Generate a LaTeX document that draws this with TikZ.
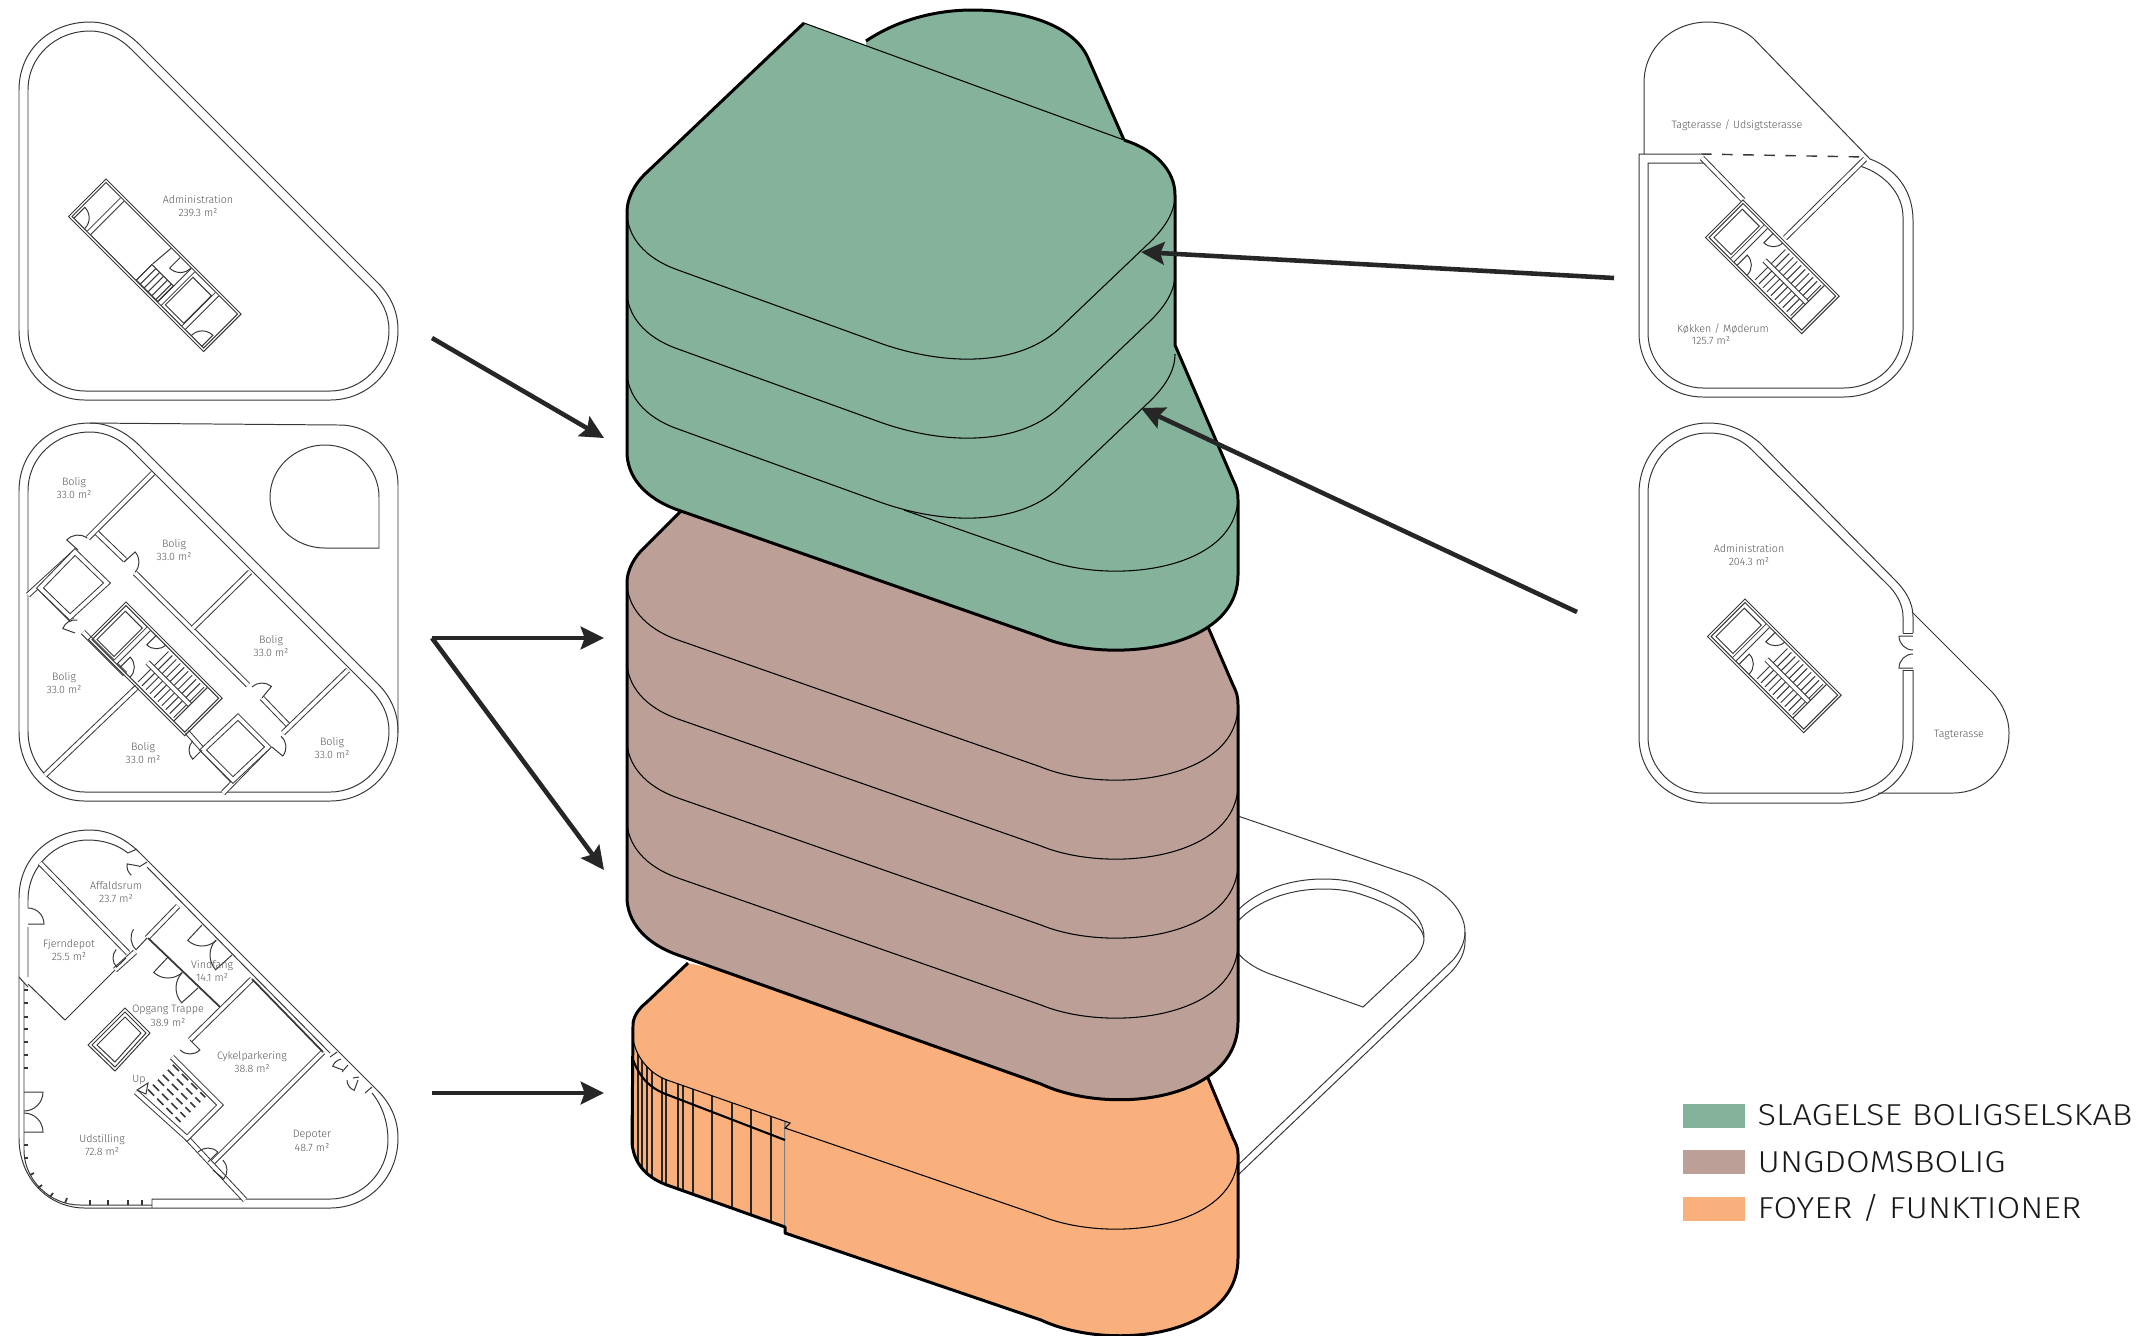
\documentclass[tikz,border=0pt]{standalone}
\usepackage{fontspec}
\setmainfont{Fira Sans}[UprightFont=* Light]
\newfontfamily\keyfont{Fira Sans}[UprightFont=* Light,FakeStretch=1.135]
\usetikzlibrary{arrows.meta}
\definecolor{slagelse}{RGB}{132,178,155}
\definecolor{ungdom}{RGB}{188,160,151}
\definecolor{foyer}{RGB}{250,176,125}
\definecolor{planink}{RGB}{55,55,55}
\definecolor{labelink}{RGB}{85,85,85}
\tikzset{
  plan/.style={draw=planink,line width=.28pt},
  wall/.style={plan,double=white,double distance=1.05pt},
  heavy/.style={draw=black,line width=.85pt,line join=round},
  layer/.style={draw=black,line width=.3pt},
  arr/.style={draw=black!85,line width=1.3pt,-{Stealth[length=6.6pt,width=6.4pt,inset=1.1pt]}},
  roomlabel/.style={text=labelink,font=\fontsize{3.05}{3.9}\selectfont,align=center,inner sep=0pt},
  keytext/.style={anchor=west,text=black!90,font=\keyfont\fontsize{8.6}{10}\selectfont,inner sep=0pt},
}
\newcommand{\doorleaf}[5]{\draw[plan] (#1,#2) -- ++(#3:#5) arc[start angle=#3,delta angle=#4,radius=#5];}
\newcommand{\shellouter}[2]{\draw[plan,shift={(#1,#2)}] (19,90) .. controls (19,50) and (50,22) .. (90,22) .. controls (110,22) and (127,32) .. (140,45) -- (378,283) .. controls (391,296) and (398,312) .. (398,330) .. controls (398,370) and (368,400) .. (330,400) -- (85,400) .. controls (48,400) and (19,370) .. (19,330) -- cycle;}
\newcommand{\shellinner}[2]{\draw[plan,shift={(#1,#2)}] (28,90) .. controls (28,56) and (56,31) .. (90,31) .. controls (106,31) and (120,38) .. (131,49) -- (370,288) .. controls (382,300) and (389,314) .. (389,330) .. controls (389,364) and (362,391) .. (330,391) -- (85,391) .. controls (54,391) and (28,364) .. (28,330) -- cycle;}
\newcommand{\stairrun}[3]{\foreach \t in {0,...,9} \draw[plan] (65+\t*5.6,#2) -- (65+\t*5.6,#3);}
\newcommand{\corecell}[2]{\begin{scope}[shift={(#1,#2)},rotate=-45]
  \draw[plan] (0,0) rectangle (136,53); \draw[plan] (2.5,2.5) rectangle (133.5,50.5);
  \draw[plan] (6,7) rectangle (30,47); \draw[wall] (35,3) -- (35,50);
  \stairrun{0}{5}{26}; \stairrun{0}{29}{48}; \draw[wall] (58,27.5) -- (118,27.5); \draw[plan] (118,3) -- (118,50);
  \doorleaf{45}{2}{90}{-90}{13.5} \doorleaf{42}{50}{-90}{90}{14}
\end{scope}}
\begin{document}
\begin{tikzpicture}[x=.01cm,y=-.01cm]
\useasboundingbox (0,0) rectangle (2148,1335);
\coordinate (p1) at (432,338); \coordinate (g1) at (604,438); \coordinate (p2) at (432,638); \coordinate (b1) at (604,638);
\coordinate (b2) at (604,870); \coordinate (p3) at (432,1093); \coordinate (o1) at (604,1093); \coordinate (p4) at (1614,278);
\coordinate (g2) at (1141,252); \coordinate (p5) at (1577,612); \coordinate (g3) at (1141,408);

\draw[plan] (1238,816) -- (1410,875) .. controls (1440,886) and (1465,908) .. (1465,932) -- (1465,942) .. controls (1465,952) and (1460,963) .. (1450,973) -- (1238,1175);
\draw[plan] (1465,932) .. controls (1465,942) and (1460,952) .. (1453,960) -- (1238,1165);
\draw[plan] (1238,910) .. controls (1258,890) and (1290,879) .. (1323,879) .. controls (1340,879) and (1352,881) .. (1363,885) .. controls (1400,897) and (1424,915) .. (1424,937);
\draw[plan] (1238,921) .. controls (1258,900) and (1290,889) .. (1323,889) .. controls (1340,889) and (1352,891) .. (1363,895) .. controls (1400,907) and (1424,925) .. (1424,940) .. controls (1423,948) and (1418,956) .. (1410,963) -- (1363,1007) -- (1273,975) .. controls (1258,970) and (1245,962) .. (1238,953);

\path[fill=foyer] (688,963) -- (647,1002) .. controls (637,1010) and (633,1018) .. (633,1025) -- (632,1143) .. controls (634,1165) and (648,1178) .. (667,1185) -- (785,1227) -- (785,1233) -- (1041,1320) .. controls (1110,1352) and (1238,1337) .. (1238,1258) -- (1238,1154) .. controls (1238,1148) and (1236,1144) .. (1233,1138) -- (1208,1078) -- cycle;
\begin{scope}
\clip (633,1038) .. controls (635,1055) and (648,1073) .. (667,1080) -- (790,1123) -- (785,1128) -- (785,1227) -- (667,1185) .. controls (648,1178) and (634,1165) .. (632,1143) -- cycle;
\foreach \x in {633,638,642,647,652,662,666,678,683,693,712,732,751,771} \draw[black!85,line width=.6pt] (\x,1000) -- (\x,1250);
\draw[black!50,line width=.3pt] (785,1100) -- (785,1240);
\end{scope}
\draw[heavy] (688,963) -- (647,1002) .. controls (637,1010) and (633,1018) .. (633,1025) -- (632,1143) .. controls (634,1165) and (648,1178) .. (667,1185) -- (785,1227) -- (785,1233) -- (1041,1320) .. controls (1110,1352) and (1238,1337) .. (1238,1258) -- (1238,1154) .. controls (1238,1148) and (1236,1144) .. (1233,1138) -- (1208,1078);
\draw[layer] (633,1038) .. controls (635,1055) and (648,1073) .. (667,1080) -- (790,1123) -- (785,1128) -- (1041,1216) .. controls (1110,1244) and (1238,1229) .. (1238,1154);
\draw[black,line width=.6pt] (632,1057) .. controls (640,1080) and (652,1088) .. (663,1093) -- (785,1140);

\fill[ungdom] (681,511) -- (644,548) .. controls (635,556) and (627,570) .. (627,582) -- (627,897) .. controls (627,921) and (644,943) .. (678,955) -- (1041,1084) .. controls (1110,1116) and (1238,1101) .. (1238,1022) -- (1238,705) .. controls (1238,697) and (1237,693) .. (1233,685) -- (1208,627) -- cycle;
\draw[heavy] (681,511) -- (644,548) .. controls (635,556) and (627,570) .. (627,582) -- (627,897) .. controls (627,921) and (644,943) .. (678,955) -- (1041,1084) .. controls (1110,1116) and (1238,1101) .. (1238,1022) -- (1238,705) .. controls (1238,697) and (1237,693) .. (1233,685) -- (1208,627);
\foreach \dy in {0,79,158,238} \draw[layer,shift={(0,\dy)}] (627,582) .. controls (627,606) and (644,628) .. (678,640) -- (1041,767) .. controls (1110,795) and (1238,780) .. (1238,705);

\fill[slagelse] (866,41) .. controls (900,18) and (940,10) .. (972,10) .. controls (1030,10) and (1075,28) .. (1088,58) -- (1124,140) -- (1124,170) -- (866,70) -- cycle;
\draw[heavy] (866,41) .. controls (900,18) and (940,10) .. (972,10) .. controls (1030,10) and (1075,28) .. (1088,58) -- (1124,140);
\fill[slagelse] (804,23) -- (1124,140) .. controls (1155,150) and (1175,170) .. (1175,195) -- (1175,345) -- (1233,480) .. controls (1237,488) and (1238,492) .. (1238,500) -- (1238,575) .. controls (1238,650) and (1110,665) .. (1041,637) -- (678,510) .. controls (644,498) and (627,476) .. (627,452) -- (627,212) .. controls (627,198) and (635,184) .. (644,175) -- cycle;
\draw[heavy] (1124,140) .. controls (1155,150) and (1175,170) .. (1175,195) -- (1175,345) -- (1233,480) .. controls (1237,488) and (1238,492) .. (1238,500) -- (1238,575) .. controls (1238,650) and (1110,665) .. (1041,637) -- (678,510) .. controls (644,498) and (627,476) .. (627,452) -- (627,212) .. controls (627,198) and (635,184) .. (644,175) -- (804,23);
\draw[layer] (804,23) -- (1124,140);
\foreach \dy in {0,79,159} \draw[layer,shift={(0,\dy)}] (627,212) .. controls (627,236) and (644,258) .. (678,270) -- (877,342) .. controls (945,367) and (1021,367) .. (1062,326) -- (1148,244) .. controls (1165,228) and (1175,212) .. (1175,195);
\draw[layer] (904,510) -- (1041,558) .. controls (1110,586) and (1238,571) .. (1238,496);

\foreach \a/\b in {p1/g1,p2/b1,p2/b2,p3/o1,p4/g2,p5/g3} \draw[arr] (\a) -- (\b);

\shellouter{0}{0} \shellinner{0}{0}
\begin{scope}[shift={(106,179)},rotate=-45]
\draw[plan] (0,0) rectangle (191,53); \draw[plan] (2.5,2.5) rectangle (188.5,50.5);
\draw[wall] (26,3) -- (26,50); \draw[plan] (95,3) -- (93,27); \draw[wall] (126,3) -- (126,50); \draw[wall] (160,3) -- (160,50);
\draw[plan] (131,8) rectangle (157,47); \draw[plan] (93,28) rectangle (123,50);
\foreach \t in {0,...,5} \draw[plan] (93+\t*5.5,28) -- (93+\t*5.5,50);
\doorleaf{5}{50}{-90}{90}{15} \doorleaf{108}{3}{90}{-90}{15} \doorleaf{186}{50}{-90}{-90}{15}
\end{scope}
\node[roomlabel] (admin1) at (198,206) {Administration\\239.3 m²};

\shellouter{0}{401} \shellinner{0}{401}
\draw[plan] (90,423) -- (340,425) .. controls (372,425) and (398,452) .. (398,485) -- (398,733);
\draw[plan] (270,497) .. controls (270,468) and (295,445) .. (325,445) .. controls (355,445) and (379,468) .. (379,497) -- (379,548) -- (325,548) .. controls (295,548) and (270,525) .. (270,497) -- cycle;
\foreach \ax/\ay/\bx/\by in {153/473/88/538,97/533/125/560,135/573/248/685,262/698/288/725,250/572/193/628,348/670/283/733,75/552/28/595,40/588/72/620,83/632/125/674,137/687/45/775,187/732/203/750,203/750/232/780,268/747/223/793}
  \draw[wall] (\ax,\ay) -- (\bx,\by);
\draw[wall] (75,552) -- (107,583) -- (70,617) -- (40,588) -- cycle;
\draw[wall] (238,717) -- (268,747) -- (233,780) -- (203,750) -- cycle;
\corecell{126}{602}
\doorleaf{78}{550}{222}{85}{15} \doorleaf{124}{562}{318}{84}{15} \doorleaf{75}{633}{200}{80}{13}
\doorleaf{262}{698}{309}{-81}{15} \doorleaf{202}{750}{135}{90}{13} \doorleaf{272}{747}{40}{-90}{14}
\foreach \n/\x/\y in {b1room/74/488,b2room/174/550,b3room/271/646,b4room/64/683,b5room/143/753,b6room/332/748}
  \node[roomlabel] (\n) at (\x,\y) {Bolig\\33.0 m²};

\shellouter{0}{808}
\draw[plan] (28,977) -- (28,927) (28,908) -- (28,900) .. controls (28,866) and (56,840) .. (88,840) .. controls (104,840) and (118,845) .. (128,853);
\draw[plan] (147,867) -- (253,975) -- (330,1053) (372,1093) .. controls (382,1105) and (388,1122) .. (388,1140) .. controls (388,1172) and (362,1199) .. (330,1199) -- (152,1199) -- (152,1208);
\draw[plan] (24,983) -- (24,1150) .. controls (24,1180) and (50,1205) .. (80,1205) -- (152,1205);
\draw[plan] (19,977) -- (28,987) (28,984) -- (65,1020) -- (115,970) (128,853) -- (137,849) (139,867) -- (147,862);
\foreach \y in {990,1003,1017,1029,1042,1055,1068,1145,1158} \draw[plan,line width=.5pt] (24,\y) -- (28,\y);
\foreach \x/\y/\u/\v in {90/1205/90/1200,108/1205/108/1200,128/1205/128/1200,142/1205/142/1200,30/1175/34/1173,38/1188/42/1185,50/1197/53/1193,65/1203/67/1198} \draw[plan,line width=.5pt] (\x,\y) -- (\u,\v);
\foreach \ax/\ay/\bx/\by in {40/863/128/953,178/906/147/938,252/979/190/1040,323/1052/213/1162,187/1138/245/1200,135/952/115/970}
  \draw[wall] (\ax,\ay) -- (\bx,\by);
\draw[planink,line width=.5pt] (148,938) -- (220,1007) (252,979) -- (323,1052);
\draw[wall] (172,1057) -- (220,1105) -- (187,1138) -- (136,1092);
\draw[plan] (125,1008) -- (150,1033) -- (115,1071) -- (88,1045) -- cycle (125,1012) -- (146,1033) -- (115,1067) -- (92,1045) -- cycle (125,1017) -- (141,1033) -- (115,1062) -- (97,1045) -- cycle;
\begin{scope}[shift={(172,1057)},rotate=-45]
\foreach \ty in {5,12,...,42} \draw[planink,line width=.45pt,dash pattern=on 2.5pt off 1.2pt] (6,\ty) -- (52,\ty);
\end{scope}
\draw[plan] (137,1090) -- (148,1083) -- (146,1094) -- cycle;
\draw[plan] (330,1057) -- (337,1052) (342,1072) -- (348,1065) (353,1078) -- (359,1077) (365,1093) -- (372,1087);
\doorleaf{168}{957}{133}{-86}{21} \doorleaf{198}{988}{138}{85}{22} \doorleaf{202}{925}{133}{-86}{21} \doorleaf{232}{955}{138}{85}{22}
\doorleaf{126}{958}{136}{85}{13} \doorleaf{147}{938}{133}{80}{16} \doorleaf{28}{924}{0}{-90}{16} \doorleaf{24}{1092}{0}{90}{19} \doorleaf{24}{1132}{0}{-90}{19}
\doorleaf{190}{1040}{45}{90}{14} \doorleaf{208}{1162}{-45}{-90}{14} \doorleaf{213}{1170}{40}{-85}{14}
\doorleaf{139}{866}{190}{-60}{12} \doorleaf{343}{1070}{200}{60}{11} \doorleaf{358}{1080}{110}{70}{11}
\node[roomlabel] (affald) at (116,892) {Affaldsrum\\23.7 m²};
\node[roomlabel] (fjern) at (69,950) {Fjerndepot\\25.5 m²};
\node[roomlabel] (vind) at (212,971) {Vindfang\\14.1 m²};
\node[roomlabel] (opgang) at (168,1016) {Opgang Trappe\\38.9 m²};
\node[roomlabel] (cykel) at (252,1062) {Cykelparkering\\38.8 m²};
\node[roomlabel] (udst) at (102,1145) {Udstilling\\72.8 m²};
\node[roomlabel] (depot) at (312,1141) {Depoter\\48.7 m²};
\node[roomlabel] (up) at (139,1080) {Up};

\draw[plan] (1644,154) -- (1644,83) .. controls (1644,48) and (1672,22) .. (1708,22) .. controls (1725,22) and (1741,28) .. (1753,38) -- (1870,159);
\draw[plan,dashed,line width=.4pt] (1701,154) -- (1865,157);
\draw[plan] (1701,154) -- (1639,154) -- (1639,333) .. controls (1639,370) and (1668,397) .. (1703,397) -- (1843,397) .. controls (1882,397) and (1913,368) .. (1913,330) -- (1913,220) .. controls (1913,190) and (1895,168) .. (1870,159);
\draw[plan] (1703,163) -- (1648,163) -- (1648,333) .. controls (1648,364) and (1674,388) .. (1703,388) -- (1843,388) .. controls (1876,388) and (1903,364) .. (1903,330) -- (1903,217) .. controls (1903,194) and (1885,174) .. (1860,166);
\draw[wall] (1865,159) -- (1785,238);
\draw[wall] (1702,158) -- (1743,200);
\corecell{1743}{200}
\node[roomlabel] (terrace1) at (1737,125) {Tagterasse / Udsigtsterasse};
\node[roomlabel] (kitchen) at (1723,329) {Køkken / Møderum};
\node[roomlabel] (kitchenarea) at (1711,341) {125.7 m²};

\draw[plan] (1913,633) -- (1913,617) .. controls (1913,602) and (1905,590) .. (1895,580) -- (1760,443) .. controls (1745,430) and (1728,423) .. (1708,423) .. controls (1670,423) and (1639,454) .. (1639,493) -- (1639,737) .. controls (1639,775) and (1670,803) .. (1708,803) -- (1843,803) .. controls (1882,803) and (1913,775) .. (1913,740) -- (1913,670);
\draw[plan] (1903,633) -- (1903,617) .. controls (1903,606) and (1898,596) .. (1890,587) -- (1752,450) .. controls (1740,438) and (1725,433) .. (1708,433) .. controls (1675,433) and (1648,460) .. (1648,493) -- (1648,737) .. controls (1648,768) and (1674,793) .. (1703,793) -- (1843,793) .. controls (1876,793) and (1903,770) .. (1903,740) -- (1903,670);
\draw[plan] (1903,633) -- (1913,633) (1903,670) -- (1913,670);
\doorleaf{1913}{636}{180}{-90}{14} \doorleaf{1913}{668}{180}{90}{14}
\draw[plan] (1912,612) -- (1993,693) .. controls (2003,705) and (2009,718) .. (2009,733) .. controls (2009,768) and (1985,793) .. (1953,793) -- (1878,793);
\corecell{1745}{599}
\node[roomlabel] (admin2) at (1749,555) {Administration\\204.3 m²};
\node[roomlabel] (terrace2) at (1959,735) {Tagterasse};

\fill[slagelse] (1683,1104) rectangle (1745,1128);
\fill[ungdom] (1683,1150) rectangle (1745,1174);
\fill[foyer] (1683,1197) rectangle (1745,1221);
\node[keytext] (key1) at (1757,1115) {SLAGELSE BOLIGSELSKAB};
\node[keytext] (key2) at (1757,1162) {UNGDOMSBOLIG};
\node[keytext] (key3) at (1757,1208) {FOYER / FUNKTIONER};
\end{tikzpicture}
\end{document}
